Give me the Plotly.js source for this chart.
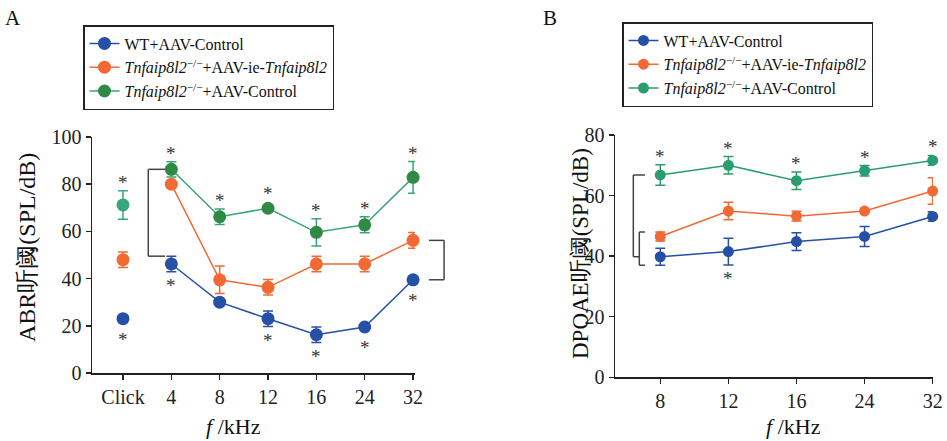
<!DOCTYPE html>
<html>
<head>
<meta charset="utf-8">
<script src="https://cdn.plot.ly/plotly-3.0.1.min.js"></script>
<style>html,body{margin:0;padding:0;background:#fff;}#chart{width:947px;height:441px;}</style>
</head>
<body>
<div id="chart"></div>
<script>
// ---------- Data ----------
const categoriesA = ['Click', '4', '8', '12', '16', '24', '32'];
const wtA        = [23, 46.2, 30, 23, 16.2, 19.5, 39.5];
const wtA_err    = [0, 3.3, 0, 3.3, 3.3, 0, 0];
const rescueA    = [48, 80, 39.5, 36.3, 46.2, 46.2, 56.2];
const rescueA_err= [3.3, 0, 5.8, 3.3, 3.3, 3.3, 3.3];
const koA        = [71.2, 86.3, 66.2, 69.8, 59.6, 62.8, 82.9];
const koA_err    = [6, 3.2, 3.3, 0, 5.8, 3.4, 6.7];
const starsTopA    = [0, 1, 2, 3, 4, 5, 6];
const starsBottomA = [0, 1, 3, 4, 5, 6];

const categoriesB = ['8', '12', '16', '24', '32'];
const wtB        = [39.8, 41.5, 44.8, 46.5, 53.1];
const wtB_err    = [2.8, 4.4, 2.9, 3.3, 1.6];
const rescueB    = [46.5, 54.9, 53.2, 54.9, 61.5];
const rescueB_err= [1.5, 2.9, 1.6, 0, 4.4];
const koB        = [66.8, 70, 64.9, 68.2, 71.6];
const koB_err    = [3.4, 2.9, 2.9, 1.7, 1.6];
const starsTopB    = [0, 1, 2, 3, 4];
const starsBottomB = [1];

const seriesNames = [
  'WT+AAV-Control',
  '<i>Tnfaip8l2</i><sup>−/−</sup>+AAV-ie-<i>Tnfaip8l2</i>',
  '<i>Tnfaip8l2</i><sup>−/−</sup>+AAV-Control'
];

// ---------- Style ----------
const W = 947, H = 441;
const SERIF = 'Liberation Serif';
const BLUE = '#2650a6';
const ORANGE = '#f26a33';
const TEAL = '#3aa57a';
const DKGREEN = '#2f8a45';
const TEALB = '#2a9d70';
const AX = '#222';
const STAR = '#333';
const BR = '#444';

const domA = {x: [92 / W, 415 / W], y: [1 - 373 / H, 1 - 137 / H]};
const domB = {x: [615 / W, 933 / W], y: [1 - 377.3 / H, 1 - 135 / H]};
const rangeA = [0, 100], rangeB = [0, 80];
const ppuA = H * (domA.y[1] - domA.y[0]) / (rangeA[1] - rangeA[0]);
const ppuB = H * (domB.y[1] - domB.y[0]) / (rangeB[1] - rangeB[0]);

const idxA = categoriesA.map((_, i) => i);
const idxB = categoriesB.map((_, i) => i);

function errBar(arr, color) {
  return {type: 'data', array: arr, visible: true, color: color, thickness: 1.5, width: 5};
}

const traces = [];
// Panel A: Click points (not connected)
function clickTrace(vals, errs, mcolor, ecolor) {
  return {
    x: [idxA[0]], y: [vals[0]], mode: 'markers', xaxis: 'x', yaxis: 'y',
    marker: {color: mcolor, size: 13}, error_y: errBar([errs[0]], ecolor),
    showlegend: false, cliponaxis: false, hoverinfo: 'skip'
  };
}
function lineTrace(vals, errs, name, lcolor, mcolor, sl) {
  return {
    x: idxA.slice(1), y: vals.slice(1), mode: 'lines+markers', name: name,
    xaxis: 'x', yaxis: 'y', legend: 'legend',
    line: {color: lcolor, width: 1.5}, marker: {color: mcolor, size: 13},
    error_y: errBar(errs.slice(1), lcolor), cliponaxis: false, showlegend: sl
  };
}
traces.push(clickTrace(wtA, wtA_err, BLUE, BLUE));
traces.push(clickTrace(rescueA, rescueA_err, ORANGE, ORANGE));
traces.push(clickTrace(koA, koA_err, TEAL, TEAL));
traces.push(lineTrace(wtA, wtA_err, seriesNames[0], BLUE, BLUE, true));
traces.push(lineTrace(rescueA, rescueA_err, seriesNames[1], ORANGE, ORANGE, true));
traces.push(lineTrace(koA, koA_err, seriesNames[2], TEAL, DKGREEN, true));

// Panel B
function traceB(vals, errs, name, color) {
  return {
    x: idxB, y: vals, mode: 'lines+markers', name: name,
    xaxis: 'x2', yaxis: 'y2', legend: 'legend2',
    line: {color: color, width: 1.5}, marker: {color: color, size: 11},
    error_y: errBar(errs, color), cliponaxis: false
  };
}
traces.push(traceB(wtB, wtB_err, seriesNames[0], BLUE));
traces.push(traceB(rescueB, rescueB_err, seriesNames[1], ORANGE));
traces.push(traceB(koB, koB_err, seriesNames[2], TEALB));

// ---------- Annotations ----------
const annotations = [];
const GAP = 11, GLYPH = 3;
function star(xref, yref, x, y, shift) {
  annotations.push({xref: xref, yref: yref, x: x, y: y, text: '*', showarrow: false,
    yshift: shift, xanchor: 'center', yanchor: 'middle',
    font: {family: SERIF, size: 19, color: STAR}});
}
starsTopA.forEach(i => {
  const edge = Math.max(koA_err[i] * ppuA, 6.5);
  star('x', 'y', i, koA[i], edge + GAP - GLYPH);
});
starsBottomA.forEach(i => {
  const edge = Math.max(wtA_err[i] * ppuA, 6.5);
  star('x', 'y', i, wtA[i], -(edge + GAP) - GLYPH);
});
starsTopB.forEach(i => {
  const edge = Math.max(koB_err[i] * ppuB, 5.5);
  star('x2', 'y2', i, koB[i], edge + GAP - GLYPH);
});
starsBottomB.forEach(i => {
  const edge = Math.max(wtB_err[i] * ppuB, 5.5);
  star('x2', 'y2', i, wtB[i], -(edge + GAP) - GLYPH);
});

// Panel letters and axis titles
annotations.push({xref: 'paper', yref: 'paper', x: 13 / W, y: 1 - 18 / H, text: 'A', showarrow: false,
  xanchor: 'center', yanchor: 'middle', font: {family: SERIF, size: 21, color: '#111'}});
annotations.push({xref: 'paper', yref: 'paper', x: 550 / W, y: 1 - 18 / H, text: 'B', showarrow: false,
  xanchor: 'center', yanchor: 'middle', font: {family: SERIF, size: 21, color: '#111'}});
annotations.push({xref: 'paper', yref: 'paper', x: 27 / W, y: 1 - 248 / H, text: 'ABR听阈(SPL/dB)',
  textangle: -90, showarrow: false, xanchor: 'center', yanchor: 'middle',
  font: {family: SERIF, size: 24, color: '#111'}});
annotations.push({xref: 'paper', yref: 'paper', x: 580 / W, y: 1 - 254 / H, text: 'DPOAE听阈(SPL/dB)',
  textangle: -90, showarrow: false, xanchor: 'center', yanchor: 'middle',
  font: {family: SERIF, size: 23, color: '#111'}});
annotations.push({xref: 'paper', yref: 'paper', x: 233 / W, y: 1 - 426 / H, text: '<i>f</i> /kHz',
  showarrow: false, xanchor: 'center', yanchor: 'middle', font: {family: SERIF, size: 22, color: '#111'}});
annotations.push({xref: 'paper', yref: 'paper', x: 793 / W, y: 1 - 426 / H, text: '<i>f</i> /kHz',
  showarrow: false, xanchor: 'center', yanchor: 'middle', font: {family: SERIF, size: 22, color: '#111'}});

// ---------- Brackets ----------
const shapes = [];
function seg(xref, yref, x0, y0, x1, y1) {
  shapes.push({type: 'line', xref: xref, yref: yref, x0: x0, y0: y0, x1: x1, y1: y1,
    line: {color: BR, width: 1.5}, layer: 'above'});
}
// A: left bracket at 4 kHz (KO vs WT)
const aTop = koA[1], aBot = wtA[1] + wtA_err[1];
seg('x', 'y', 0.523, aTop, 0.523, aBot);
seg('x', 'y', 0.523, aTop, 0.869, aTop);
seg('x', 'y', 0.523, aBot, 0.869, aBot);
// A: right bracket at 32 kHz (rescue vs WT)
const rTop = rescueA[6], rBot = wtA[6];
seg('x domain', 'y', 1.09, rTop, 1.09, rBot);
seg('x domain', 'y', 1.043, rTop, 1.09, rTop);
seg('x domain', 'y', 1.043, rBot, 1.09, rBot);
// B: outer bracket (KO vs WT) and inner bracket (rescue vs WT) at 8 kHz
seg('x2', 'y2', -0.396, koB[0], -0.396, wtB[0]);
seg('x2', 'y2', -0.396, koB[0], -0.225, koB[0]);
seg('x2', 'y2', -0.396, wtB[0], -0.308, wtB[0]);
const iTop = rescueB[0] + rescueB_err[0], iBot = wtB[0] - wtB_err[0];
seg('x2', 'y2', -0.308, iTop, -0.308, iBot);
seg('x2', 'y2', -0.308, iTop, -0.225, iTop);
seg('x2', 'y2', -0.308, iBot, -0.225, iBot);

// ---------- Layout ----------
const axisCommon = {
  showline: true, linecolor: AX, linewidth: 1.5, ticks: 'outside', ticklen: 5, tickwidth: 1.5,
  tickcolor: AX, showgrid: false, zeroline: false, fixedrange: true,
  tickfont: {family: SERIF, size: 20, color: '#222'}
};
const legendCommon = {
  xanchor: 'left', yanchor: 'top', bgcolor: '#fff', bordercolor: '#222', borderwidth: 1.5,
  font: {family: SERIF, size: 16, color: '#111'}, tracegroupgap: 0, itemwidth: 30
};
const layout = {
  width: W, height: H, margin: {l: 0, r: 0, t: 0, b: 0},
  paper_bgcolor: '#fff', plot_bgcolor: '#fff', showlegend: true,
  xaxis: Object.assign({}, axisCommon, {domain: domA.x, range: [-0.641, 6.04], anchor: 'y',
    tickmode: 'array', tickvals: idxA, ticktext: categoriesA}),
  yaxis: Object.assign({}, axisCommon, {domain: domA.y, range: rangeA, anchor: 'x', dtick: 20, tick0: 0}),
  xaxis2: Object.assign({}, axisCommon, {domain: domB.x, range: [-0.665, 4.005], anchor: 'y2',
    tickmode: 'array', tickvals: idxB, ticktext: categoriesB}),
  yaxis2: Object.assign({}, axisCommon, {domain: domB.y, range: rangeB, anchor: 'x2', dtick: 20, tick0: 0}),
  legend: Object.assign({}, legendCommon, {x: 83 / W, y: 1 - 25 / H}),
  legend2: Object.assign({}, legendCommon, {x: 622 / W, y: 1 - 22 / H}),
  annotations: annotations,
  shapes: shapes
};

Plotly.newPlot('chart', traces, layout, {displayModeBar: false, staticPlot: true});
</script>
</body>
</html>
